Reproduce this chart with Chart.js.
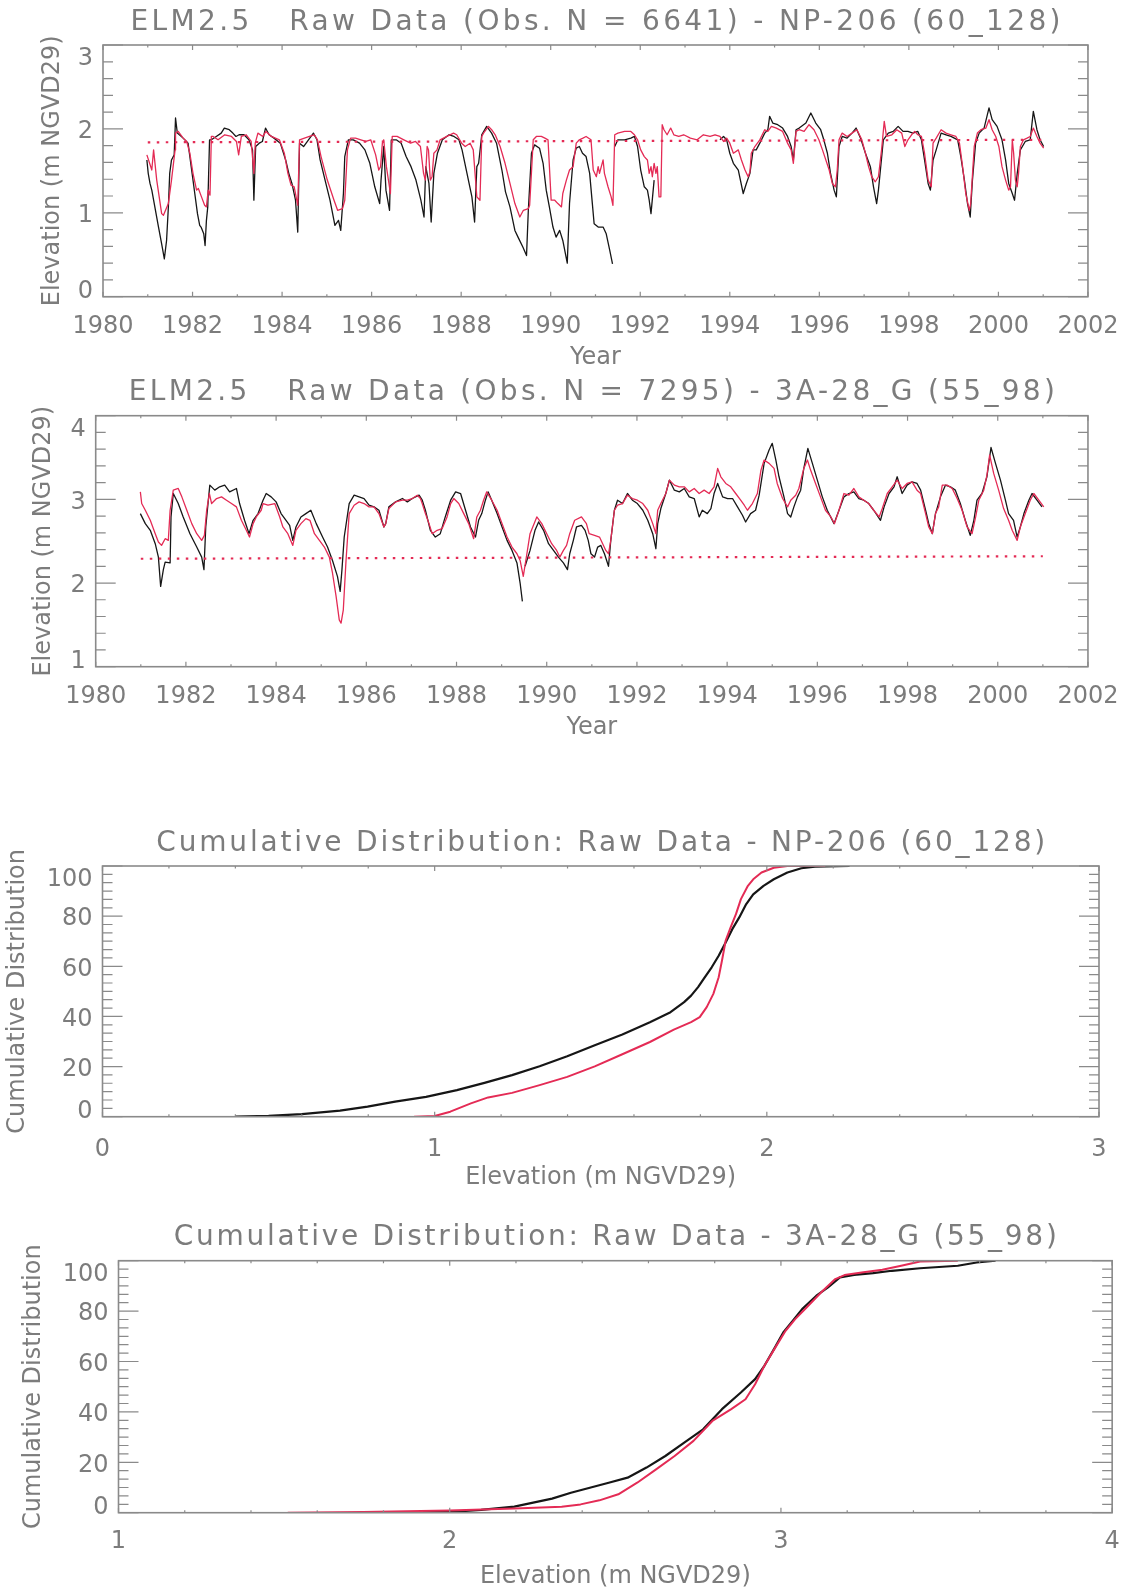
<!DOCTYPE html>
<html>
<head>
<meta charset="utf-8">
<title>ELM2.5 Raw Data - NP-206 / 3A-28_G</title>
<script src="https://cdn.jsdelivr.net/npm/chart.js@4.4.1/dist/chart.umd.min.js"></script>
<style>
  html, body { margin:0; padding:0; background:#ffffff; }
  body { position:relative; width:1134px; height:1593px; overflow:hidden; }
  canvas { position:absolute; left:0; }
</style>
</head>
<body>
<canvas id="np206Series" width="1134" height="372" style="top:0px"></canvas>
<canvas id="a328Series" width="1134" height="380" style="top:372px"></canvas>
<canvas id="np206Cdf" width="1134" height="395" style="top:800px"></canvas>
<canvas id="a328Cdf" width="1134" height="398" style="top:1195px"></canvas>
<script>
// ---------------- tick labels ----------------
const yearTicks   = [1980,1982,1984,1986,1988,1990,1992,1994,1996,1998,2000,2002];
const elevTicksNP = [0,1,2,3];
const elevTicksA  = [1,2,3,4];
const pctTicks    = [0,20,40,60,80,100];
const cdfTicksNP  = [0,1,2,3];
const cdfTicksA   = [1,2,3,4];

// ---------------- NP-206 (60_128) time series: [year, elevation m] ----------------
const np206Obs = [
[1980.98,1.63],[1981.01,1.47],[1981.05,1.35],[1981.09,1.27],[1981.24,0.83],[1981.31,0.63],[1981.37,0.45],[1981.42,0.67],[1981.46,1.07],[1981.49,1.47],[1981.53,1.63],[1981.59,1.69],[1981.62,2.13],[1981.66,1.95],[1981.79,1.89],[1981.90,1.83],[1981.97,1.55],[1982.05,1.23],[1982.11,0.99],[1982.16,0.85],[1982.19,0.83],[1982.25,0.75],[1982.28,0.61],[1982.31,0.91],[1982.34,1.07],[1982.38,1.87],[1982.42,1.87],[1982.53,1.91],[1982.64,1.95],[1982.71,2.01],[1982.82,1.99],[1982.90,1.95],[1982.97,1.91],[1983.04,1.93],[1983.15,1.93],[1983.26,1.87],[1983.34,1.75],[1983.37,1.15],[1983.41,1.79],[1983.49,1.83],[1983.56,1.85],[1983.63,2.01],[1983.71,1.93],[1983.82,1.89],[1983.96,1.83],[1984.08,1.63],[1984.15,1.47],[1984.22,1.35],[1984.30,1.15],[1984.35,0.77],[1984.39,1.83],[1984.48,1.79],[1984.59,1.87],[1984.70,1.95],[1984.78,1.87],[1984.85,1.63],[1984.96,1.39],[1985.07,1.15],[1985.18,0.85],[1985.26,0.91],[1985.31,0.79],[1985.37,1.23],[1985.40,1.67],[1985.48,1.87],[1985.59,1.87],[1985.73,1.83],[1985.85,1.75],[1985.96,1.59],[1986.07,1.31],[1986.18,1.11],[1986.21,1.39],[1986.27,1.79],[1986.32,1.27],[1986.40,1.03],[1986.44,1.87],[1986.55,1.87],[1986.66,1.83],[1986.77,1.67],[1986.88,1.55],[1986.99,1.39],[1987.10,1.15],[1987.17,0.95],[1987.21,1.55],[1987.28,1.35],[1987.33,0.89],[1987.39,1.47],[1987.47,1.71],[1987.58,1.87],[1987.73,1.93],[1987.84,1.91],[1987.95,1.87],[1988.02,1.75],[1988.13,1.47],[1988.24,1.19],[1988.30,0.89],[1988.35,1.55],[1988.39,1.59],[1988.46,1.93],[1988.57,2.03],[1988.68,1.95],[1988.79,1.83],[1988.91,1.51],[1988.99,1.25],[1989.09,1.07],[1989.20,0.79],[1989.27,0.71],[1989.38,0.59],[1989.46,0.49],[1989.50,1.03],[1989.57,1.71],[1989.64,1.81],[1989.75,1.77],[1989.83,1.59],[1989.90,1.27],[1989.97,1.07],[1990.05,0.83],[1990.12,0.71],[1990.20,0.79],[1990.27,0.67],[1990.37,0.40],[1990.42,1.11],[1990.50,1.63],[1990.57,1.77],[1990.64,1.79],[1990.71,1.71],[1990.79,1.67],[1990.87,1.47],[1990.93,1.11],[1990.97,0.87],[1991.06,0.83],[1991.17,0.83],[1991.24,0.75],[1991.32,0.55],[1991.38,0.39],[1991.40,null],[1991.43,1.79],[1991.50,1.87],[1991.65,1.87],[1991.79,1.89],[1991.87,1.91],[1991.94,1.79],[1992.01,1.51],[1992.09,1.31],[1992.16,1.27],[1992.20,1.15],[1992.24,0.99],[1992.31,1.39],[1992.50,null],
[1993.78,1.87],[1993.86,1.91],[1993.93,1.87],[1994.00,1.71],[1994.08,1.59],[1994.19,1.51],[1994.30,1.23],[1994.37,1.35],[1994.45,1.47],[1994.52,1.75],[1994.59,1.75],[1994.67,1.83],[1994.78,1.95],[1994.85,1.99],[1994.89,2.15],[1994.96,2.07],[1995.07,2.05],[1995.18,2.01],[1995.29,1.91],[1995.37,1.79],[1995.42,1.63],[1995.48,1.99],[1995.55,2.01],[1995.70,2.07],[1995.81,2.19],[1995.92,2.07],[1996.03,1.99],[1996.10,1.87],[1996.18,1.71],[1996.25,1.47],[1996.33,1.27],[1996.38,1.19],[1996.44,1.79],[1996.51,1.91],[1996.62,1.89],[1996.73,1.95],[1996.82,2.01],[1996.92,1.89],[1997.03,1.71],[1997.14,1.55],[1997.21,1.31],[1997.28,1.11],[1997.32,1.27],[1997.43,1.87],[1997.54,1.95],[1997.65,1.97],[1997.76,2.03],[1997.87,1.97],[1997.98,1.97],[1998.09,1.95],[1998.20,1.97],[1998.28,1.87],[1998.35,1.63],[1998.43,1.35],[1998.48,1.27],[1998.54,1.63],[1998.61,1.75],[1998.72,1.95],[1998.83,1.93],[1998.94,1.91],[1999.09,1.87],[1999.16,1.67],[1999.24,1.39],[1999.31,1.11],[1999.37,0.95],[1999.42,1.39],[1999.49,1.83],[1999.57,1.95],[1999.68,2.01],[1999.79,2.25],[1999.86,2.11],[1999.97,2.03],[2000.08,1.87],[2000.16,1.63],[2000.23,1.35],[2000.31,1.23],[2000.36,1.15],[2000.42,1.47],[2000.49,1.75],[2000.60,1.85],[2000.71,1.87],[2000.78,2.21],[2000.86,1.99],[2000.93,1.87],[2001.01,1.79]
];
const np206Model = [
[1980.98,1.69],[1981.09,1.51],[1981.13,1.75],[1981.20,1.39],[1981.31,0.99],[1981.35,0.97],[1981.46,1.11],[1981.53,1.39],[1981.61,1.75],[1981.62,1.95],[1981.68,1.97],[1981.79,1.89],[1981.87,1.85],[1981.94,1.71],[1982.01,1.47],[1982.09,1.27],[1982.13,1.29],[1982.20,1.19],[1982.27,1.09],[1982.31,1.07],[1982.35,1.27],[1982.39,1.21],[1982.42,1.91],[1982.46,1.91],[1982.57,1.87],[1982.72,1.93],[1982.87,1.91],[1982.98,1.85],[1983.03,1.69],[1983.09,1.91],[1983.20,1.93],[1983.31,1.85],[1983.37,1.47],[1983.40,1.83],[1983.46,1.95],[1983.57,1.91],[1983.64,1.97],[1983.76,1.91],[1983.94,1.87],[1984.05,1.71],[1984.13,1.47],[1984.20,1.33],[1984.27,1.31],[1984.35,1.09],[1984.39,1.87],[1984.50,1.89],[1984.61,1.91],[1984.72,1.93],[1984.79,1.87],[1984.87,1.67],[1985.01,1.39],[1985.16,1.15],[1985.24,1.03],[1985.35,1.05],[1985.40,1.15],[1985.46,1.75],[1985.53,1.89],[1985.64,1.89],[1985.76,1.87],[1985.87,1.85],[1985.98,1.87],[1986.09,1.69],[1986.16,1.51],[1986.20,1.55],[1986.24,1.83],[1986.27,1.87],[1986.33,1.55],[1986.42,1.23],[1986.46,1.91],[1986.57,1.91],[1986.72,1.87],[1986.87,1.83],[1986.98,1.85],[1987.09,1.79],[1987.16,1.47],[1987.20,1.39],[1987.24,1.79],[1987.27,1.75],[1987.31,1.39],[1987.35,1.43],[1987.39,1.71],[1987.46,1.75],[1987.53,1.87],[1987.68,1.91],[1987.83,1.95],[1987.90,1.93],[1988.01,1.83],[1988.09,1.79],[1988.20,1.83],[1988.27,1.75],[1988.35,1.19],[1988.42,1.15],[1988.46,1.91],[1988.50,1.95],[1988.61,2.03],[1988.68,1.99],[1988.76,1.93],[1988.87,1.79],[1988.98,1.59],[1989.09,1.35],[1989.20,1.11],[1989.31,0.95],[1989.39,1.03],[1989.50,1.05],[1989.53,1.09],[1989.61,1.87],[1989.68,1.91],[1989.79,1.91],[1989.87,1.89],[1989.94,1.87],[1990.01,1.15],[1990.09,1.15],[1990.16,1.11],[1990.24,1.07],[1990.27,1.23],[1990.35,1.39],[1990.42,1.51],[1990.50,1.55],[1990.57,1.83],[1990.64,1.87],[1990.72,1.89],[1990.79,1.91],[1990.90,1.87],[1990.95,1.51],[1991.02,1.43],[1991.06,1.55],[1991.09,1.47],[1991.17,1.63],[1991.20,1.47],[1991.28,1.31],[1991.35,1.19],[1991.39,1.09],[1991.43,1.93],[1991.50,1.95],[1991.65,1.97],[1991.79,1.97],[1991.87,1.93],[1991.94,1.87],[1992.01,1.75],[1992.09,1.67],[1992.16,1.63],[1992.20,1.47],[1992.24,1.55],[1992.27,1.43],[1992.31,1.59],[1992.35,1.47],[1992.38,1.55],[1992.42,1.19],[1992.46,1.19],[1992.49,2.05],[1992.53,1.99],[1992.60,1.93],[1992.68,2.01],[1992.75,1.93],[1992.86,1.91],[1992.97,1.93],[1993.12,1.89],[1993.27,1.87],[1993.41,1.93],[1993.56,1.91],[1993.67,1.93],[1993.78,1.91],[1993.86,1.85],[1993.93,1.89],[1994.00,1.83],[1994.08,1.71],[1994.19,1.75],[1994.26,1.63],[1994.34,1.51],[1994.41,1.43],[1994.45,1.49],[1994.48,1.71],[1994.56,1.79],[1994.67,1.87],[1994.78,1.99],[1994.85,1.97],[1994.93,2.03],[1995.04,2.01],[1995.18,1.97],[1995.29,1.83],[1995.37,1.75],[1995.42,1.59],[1995.48,1.97],[1995.55,1.99],[1995.66,1.97],[1995.77,2.05],[1995.88,1.99],[1995.99,1.87],[1996.07,1.75],[1996.22,1.51],[1996.29,1.35],[1996.36,1.31],[1996.40,1.51],[1996.44,1.87],[1996.51,1.95],[1996.62,1.91],[1996.73,1.95],[1996.84,1.99],[1996.95,1.87],[1997.03,1.71],[1997.10,1.55],[1997.17,1.43],[1997.25,1.37],[1997.32,1.43],[1997.39,1.75],[1997.45,2.09],[1997.50,1.91],[1997.62,1.93],[1997.73,1.99],[1997.84,1.95],[1997.91,1.79],[1997.98,1.87],[1998.06,1.93],[1998.13,1.97],[1998.20,1.93],[1998.28,1.91],[1998.35,1.71],[1998.43,1.39],[1998.50,1.31],[1998.54,1.83],[1998.61,1.89],[1998.72,1.99],[1998.83,1.95],[1998.94,1.93],[1999.05,1.91],[1999.13,1.83],[1999.20,1.55],[1999.27,1.23],[1999.35,1.03],[1999.38,1.11],[1999.46,1.79],[1999.53,1.95],[1999.61,1.99],[1999.72,2.01],[1999.79,2.11],[1999.86,1.99],[1999.94,1.91],[2000.01,1.79],[2000.08,1.55],[2000.16,1.39],[2000.23,1.27],[2000.27,1.31],[2000.31,1.87],[2000.34,1.71],[2000.38,1.39],[2000.42,1.31],[2000.45,1.47],[2000.49,1.79],[2000.56,1.87],[2000.64,1.89],[2000.71,1.91],[2000.78,2.01],[2000.86,1.91],[2000.93,1.83],[2001.01,1.77]
];
const np206Trend = [[1981.0,1.84],[2001.0,1.87]];

// ---------------- 3A-28_G (55_98) time series: [year, elevation m] ----------------
const a328Obs = [
[1980.99,2.83],[1981.10,2.71],[1981.21,2.63],[1981.32,2.47],[1981.39,2.31],[1981.44,1.96],[1981.50,2.16],[1981.54,2.25],[1981.65,2.24],[1981.67,2.79],[1981.72,3.07],[1981.83,2.95],[1981.94,2.79],[1982.09,2.59],[1982.24,2.43],[1982.35,2.31],[1982.40,2.16],[1982.44,2.67],[1982.53,3.17],[1982.64,3.11],[1982.75,3.15],[1982.86,3.17],[1982.97,3.09],[1983.12,3.13],[1983.19,2.95],[1983.30,2.75],[1983.40,2.59],[1983.49,2.75],[1983.60,2.83],[1983.71,2.99],[1983.78,3.07],[1983.89,3.03],[1984.00,2.97],[1984.11,2.83],[1984.22,2.75],[1984.30,2.69],[1984.37,2.51],[1984.44,2.67],[1984.55,2.79],[1984.66,2.83],[1984.77,2.87],[1984.89,2.71],[1985.03,2.55],[1985.14,2.43],[1985.25,2.27],[1985.36,2.08],[1985.42,1.90],[1985.46,2.16],[1985.51,2.55],[1985.62,2.95],[1985.73,3.05],[1985.84,3.03],[1985.95,3.01],[1986.06,2.93],[1986.17,2.91],[1986.28,2.87],[1986.39,2.67],[1986.43,2.71],[1986.50,2.91],[1986.65,2.97],[1986.80,3.01],[1986.91,2.97],[1987.02,3.01],[1987.17,3.05],[1987.24,2.99],[1987.31,2.87],[1987.42,2.63],[1987.53,2.55],[1987.64,2.59],[1987.75,2.79],[1987.87,2.99],[1987.98,3.09],[1988.09,3.07],[1988.20,2.87],[1988.31,2.67],[1988.42,2.55],[1988.49,2.75],[1988.56,2.83],[1988.64,2.99],[1988.70,3.09],[1988.78,2.99],[1988.90,2.83],[1989.01,2.67],[1989.12,2.51],[1989.23,2.39],[1989.34,2.24],[1989.41,2.00],[1989.46,1.78],[1989.49,null],[1989.52,2.20],[1989.63,2.39],[1989.74,2.63],[1989.82,2.73],[1989.93,2.63],[1990.04,2.47],[1990.15,2.39],[1990.26,2.31],[1990.37,2.24],[1990.46,2.16],[1990.51,2.35],[1990.59,2.51],[1990.66,2.67],[1990.77,2.69],[1990.85,2.63],[1990.92,2.51],[1990.98,2.35],[1991.06,2.31],[1991.13,2.43],[1991.20,2.45],[1991.28,2.35],[1991.37,2.20],[1991.42,2.51],[1991.50,2.87],[1991.57,2.99],[1991.68,2.95],[1991.79,3.07],[1991.90,2.99],[1992.01,2.95],[1992.13,2.87],[1992.24,2.75],[1992.35,2.59],[1992.42,2.41],[1992.46,2.71],[1992.53,2.89],[1992.64,3.07],[1992.72,3.23],[1992.83,3.11],[1992.94,3.09],[1993.05,3.13],[1993.16,3.03],[1993.27,3.01],[1993.38,2.79],[1993.45,2.87],[1993.56,2.83],[1993.64,2.89],[1993.71,3.07],[1993.79,3.19],[1993.90,3.03],[1994.01,3.01],[1994.12,3.01],[1994.23,2.91],[1994.34,2.81],[1994.41,2.73],[1994.52,2.83],[1994.63,2.87],[1994.71,3.05],[1994.82,3.43],[1994.93,3.59],[1995.00,3.67],[1995.08,3.47],[1995.15,3.27],[1995.26,3.03],[1995.34,2.83],[1995.41,2.79],[1995.48,2.91],[1995.56,3.03],[1995.63,3.11],[1995.70,3.37],[1995.79,3.61],[1995.89,3.43],[1996.00,3.23],[1996.11,3.03],[1996.22,2.87],[1996.37,2.71],[1996.48,2.87],[1996.59,3.03],[1996.70,3.07],[1996.81,3.09],[1996.92,3.01],[1997.03,2.99],[1997.14,2.95],[1997.25,2.87],[1997.40,2.75],[1997.48,2.91],[1997.59,3.07],[1997.70,3.15],[1997.77,3.27],[1997.88,3.07],[1997.99,3.17],[1998.10,3.21],[1998.21,3.19],[1998.29,3.11],[1998.40,2.87],[1998.47,2.71],[1998.55,2.59],[1998.62,2.83],[1998.73,3.03],[1998.84,3.17],[1998.95,3.15],[1999.06,3.11],[1999.17,2.95],[1999.28,2.75],[1999.39,2.57],[1999.47,2.75],[1999.54,2.99],[1999.65,3.07],[1999.76,3.27],[1999.85,3.62],[1999.95,3.43],[2000.06,3.23],[2000.17,2.99],[2000.24,2.83],[2000.35,2.75],[2000.43,2.55],[2000.50,2.67],[2000.58,2.83],[2000.69,2.99],[2000.76,3.07],[2000.87,2.99],[2000.98,2.91]
];
const a328Model = [
[1980.99,3.09],[1981.02,2.95],[1981.10,2.87],[1981.21,2.75],[1981.32,2.59],[1981.39,2.49],[1981.46,2.45],[1981.54,2.53],[1981.61,2.51],[1981.65,2.87],[1981.72,3.11],[1981.83,3.13],[1981.91,3.03],[1982.02,2.87],[1982.13,2.71],[1982.24,2.59],[1982.35,2.51],[1982.41,2.57],[1982.46,2.87],[1982.52,3.07],[1982.57,2.95],[1982.68,3.01],[1982.79,3.03],[1982.90,2.99],[1983.01,2.95],[1983.12,2.91],[1983.23,2.75],[1983.34,2.63],[1983.41,2.55],[1983.49,2.71],[1983.56,2.79],[1983.67,2.87],[1983.71,2.95],[1983.82,2.93],[1983.97,2.95],[1984.08,2.79],[1984.15,2.67],[1984.26,2.59],[1984.37,2.45],[1984.44,2.63],[1984.55,2.71],[1984.66,2.77],[1984.75,2.75],[1984.85,2.59],[1984.96,2.51],[1985.07,2.43],[1985.18,2.31],[1985.25,2.12],[1985.33,1.84],[1985.40,1.56],[1985.44,1.52],[1985.49,1.68],[1985.55,2.27],[1985.62,2.83],[1985.73,2.93],[1985.84,2.97],[1985.95,2.95],[1986.06,2.91],[1986.17,2.91],[1986.28,2.83],[1986.39,2.67],[1986.43,2.71],[1986.50,2.89],[1986.65,2.97],[1986.80,2.99],[1986.91,2.99],[1987.02,3.01],[1987.13,3.05],[1987.20,3.01],[1987.24,2.95],[1987.31,2.83],[1987.39,2.71],[1987.46,2.59],[1987.57,2.63],[1987.68,2.65],[1987.79,2.79],[1987.87,2.95],[1987.94,3.01],[1988.05,2.95],[1988.16,2.83],[1988.27,2.71],[1988.38,2.53],[1988.45,2.79],[1988.53,2.87],[1988.60,2.99],[1988.67,3.09],[1988.78,2.99],[1988.90,2.87],[1989.01,2.71],[1989.12,2.55],[1989.23,2.43],[1989.34,2.35],[1989.41,2.27],[1989.48,2.08],[1989.56,2.35],[1989.63,2.59],[1989.78,2.79],[1989.89,2.71],[1990.00,2.59],[1990.11,2.47],[1990.22,2.39],[1990.29,2.31],[1990.37,2.39],[1990.44,2.45],[1990.51,2.59],[1990.62,2.75],[1990.77,2.79],[1990.88,2.71],[1990.94,2.59],[1991.06,2.57],[1991.17,2.55],[1991.24,2.47],[1991.31,2.39],[1991.37,2.35],[1991.42,2.51],[1991.50,2.87],[1991.57,2.93],[1991.68,2.95],[1991.79,3.05],[1991.90,3.01],[1992.01,2.99],[1992.13,2.95],[1992.24,2.87],[1992.35,2.71],[1992.42,2.59],[1992.46,2.87],[1992.53,2.95],[1992.64,3.07],[1992.72,3.23],[1992.83,3.17],[1992.94,3.15],[1993.05,3.15],[1993.16,3.09],[1993.27,3.13],[1993.38,3.07],[1993.49,3.11],[1993.60,3.07],[1993.71,3.15],[1993.79,3.37],[1993.86,3.27],[1993.97,3.19],[1994.08,3.15],[1994.19,3.07],[1994.30,2.99],[1994.38,2.93],[1994.45,2.87],[1994.56,2.95],[1994.67,3.07],[1994.75,3.35],[1994.82,3.47],[1994.93,3.43],[1995.04,3.37],[1995.11,3.19],[1995.23,3.01],[1995.34,2.91],[1995.41,2.99],[1995.52,3.05],[1995.59,3.13],[1995.70,3.37],[1995.78,3.47],[1995.85,3.35],[1995.96,3.19],[1996.07,3.03],[1996.18,2.87],[1996.30,2.79],[1996.38,2.71],[1996.48,2.87],[1996.59,3.07],[1996.70,3.05],[1996.81,3.13],[1996.92,3.03],[1997.03,2.99],[1997.14,2.95],[1997.25,2.87],[1997.37,2.79],[1997.44,2.89],[1997.55,3.07],[1997.66,3.15],[1997.77,3.23],[1997.88,3.13],[1997.99,3.19],[1998.10,3.21],[1998.21,3.11],[1998.29,3.07],[1998.40,2.83],[1998.47,2.67],[1998.55,2.59],[1998.62,2.83],[1998.69,2.91],[1998.77,3.17],[1998.88,3.17],[1998.99,3.13],[1999.10,3.01],[1999.21,2.87],[1999.32,2.67],[1999.43,2.59],[1999.51,2.79],[1999.58,2.99],[1999.69,3.11],[1999.76,3.29],[1999.82,3.53],[1999.91,3.31],[2000.02,3.11],[2000.13,2.89],[2000.24,2.75],[2000.32,2.63],[2000.43,2.51],[2000.50,2.67],[2000.61,2.83],[2000.72,2.99],[2000.80,3.07],[2000.91,2.99],[2001.02,2.91]
];
const a328Trend = [[1981.0,2.29],[2001.0,2.32]];

// ---------------- cumulative distributions: [elevation m, percent] ----------------
const np206CdfObs = [
[0.40,0],[0.50,0.3],[0.60,1.0],[0.715,2.4],[0.798,4.0],[0.881,6.0],[0.974,7.9],[1.067,10.6],[1.150,13.5],[1.233,16.6],[1.316,20.1],[1.399,24.1],[1.482,28.5],[1.565,32.8],[1.648,37.7],[1.710,41.7],[1.751,45.7],[1.772,48.3],[1.793,51.7],[1.813,55.6],[1.834,59.6],[1.855,64.2],[1.876,69.5],[1.896,74.8],[1.917,79.5],[1.938,84.8],[1.959,88.7],[1.990,92.1],[2.021,94.7],[2.062,97.4],[2.104,99.1],[2.145,99.7],[2.249,100]
];
const np206CdfModel = [
[0.938,0],[1.0,0.3],[1.047,2.0],[1.109,5.3],[1.161,7.7],[1.233,9.5],[1.316,12.6],[1.399,15.9],[1.482,20.1],[1.565,24.9],[1.648,29.8],[1.720,34.7],[1.772,37.7],[1.798,39.7],[1.819,43.7],[1.839,49.0],[1.855,55.6],[1.865,62.3],[1.876,70.2],[1.891,75.5],[1.907,80.8],[1.922,86.8],[1.943,92.1],[1.959,94.7],[1.984,97.4],[2.021,99.3],[2.062,100],[2.176,100]
];
const a328CdfObs = [
[1.768,0],[2.0,0.3],[2.095,1.1],[2.195,2.4],[2.252,4.0],[2.309,5.6],[2.366,7.9],[2.423,9.9],[2.480,11.9],[2.537,13.9],[2.594,17.9],[2.651,22.5],[2.708,27.8],[2.765,33.1],[2.822,41.1],[2.879,47.7],[2.922,53.0],[2.950,58.3],[2.979,64.9],[3.007,71.5],[3.036,76.2],[3.064,80.8],[3.107,86.1],[3.142,89.4],[3.178,93.4],[3.221,94.4],[3.278,95.1],[3.335,96.0],[3.420,97.0],[3.534,98.0],[3.591,99.3],[3.648,100]
];
const a328CdfModel = [
[1.511,0],[1.739,0.3],[2.0,0.9],[2.195,1.7],[2.338,2.4],[2.395,3.3],[2.452,4.9],[2.509,7.3],[2.566,11.9],[2.623,17.2],[2.679,22.5],[2.736,28.5],[2.793,36.4],[2.850,41.1],[2.893,45.0],[2.922,51.0],[2.950,58.3],[2.986,66.2],[3.014,72.2],[3.043,76.8],[3.078,81.5],[3.121,87.4],[3.164,92.7],[3.192,94.3],[3.249,95.4],[3.306,96.4],[3.363,98.0],[3.420,99.7],[3.534,100]
];

// ---------------- styles ----------------
const FONT  = '"DejaVu Sans", "Liberation Sans", sans-serif';
const TEXT  = '#7c7c7c';
const FRAME = '#8a8a8a';
const RED   = '#e42b55';
const BLACK = '#161616';

function xy(pairs) { return pairs.map(p => ({ x: p[0], y: p[1] })); }
function steps(min, max, step, skip) {
  const out = [];
  const n = Math.round((max - min) / step);
  for (let i = 0; i <= n; i++) {
    const v = +(min + i * step).toFixed(6);
    if (!skip.some(s => Math.abs(s - v) < 1e-6)) out.push(v);
  }
  return out;
}

// IDL-style heading drawn with letter spacing
const idlTitle = {
  id: 'idlTitle',
  afterDraw(chart, args, o) {
    const ctx = chart.ctx, a = chart.chartArea;
    ctx.save();
    ctx.font = o.size + 'px ' + FONT;
    ctx.fillStyle = TEXT;
    ctx.textBaseline = 'middle';
    ctx.textAlign = 'left';
    const n = Array.from(o.text).length;
    const w0 = ctx.measureText(o.text).width;
    const ls = Math.max(0, (o.width - w0) / (n - 1));
    const x0 = (a.left + a.right) / 2 - o.width / 2;
    const y = o.y + 0.07 * o.size;
    if ('letterSpacing' in ctx) {
      ctx.letterSpacing = ls + 'px';
      ctx.fillText(o.text, x0, y);
    } else {
      let x = x0;
      for (const ch of o.text) { ctx.fillText(ch, x, y); x += ctx.measureText(ch).width + ls; }
    }
    ctx.restore();
  }
};

// IDL-style box with inward major/minor ticks on all four sides
const idlFrame = {
  id: 'idlFrame',
  afterDraw(chart, args, o) {
    const ctx = chart.ctx, a = chart.chartArea, xs = chart.scales.x, ys = chart.scales.y;
    ctx.save();
    ctx.strokeStyle = FRAME;
    ctx.lineWidth = 1.2;
    ctx.beginPath();
    const seg = (x1, y1, x2, y2) => { ctx.moveTo(x1, y1); ctx.lineTo(x2, y2); };
    [[o.xMajor, 5], [o.xMinor, 2.5]].forEach(([vals, len]) => {
      for (const v of vals) {
        const px = xs.getPixelForValue(v);
        seg(px, a.bottom, px, a.bottom - len);
        seg(px, a.top, px, a.top + len);
      }
    });
    [[o.yMajor, 20], [o.yMinor, 10]].forEach(([vals, len]) => {
      for (const v of vals) {
        const py = ys.getPixelForValue(v);
        seg(a.left, py, a.left + len, py);
        seg(a.right, py, a.right - len, py);
      }
    });
    ctx.stroke();
    ctx.lineWidth = 1.6;
    ctx.strokeRect(a.left, a.top, a.right - a.left, a.bottom - a.top);
    ctx.restore();
  }
};

function makePanel(id, p) {
  const canvas = document.getElementById(id);
  const W = canvas.width, H = canvas.height;
  const xMin = p.xTicks[0], xMax = p.xTicks[p.xTicks.length - 1];
  const yMin = p.yTicks[0], yMax = p.yTicks[p.yTicks.length - 1];
  const half = 14.4;   // half line height of 24px text
  const lift = 1.6;    // 'middle' baseline vs glyph centre
  return new Chart(canvas, {
    type: 'line',
    data: { datasets: p.datasets },
    options: {
      responsive: false, animation: false, devicePixelRatio: 1, events: [],
      layout: { padding: { left: 0, top: p.plot.top, right: W - p.plot.right, bottom: 0 } },
      elements: { point: { radius: 0 }, line: { tension: 0, borderJoinStyle: 'round', borderCapStyle: 'butt' } },
      plugins: {
        legend: { display: false }, tooltip: { enabled: false }, title: { display: false },
        idlTitle: { text: p.title, y: p.titleY, width: p.titleWidth, size: 28 },
        idlFrame: {
          xMajor: p.xTicks, xMinor: steps(xMin, xMax, p.xMinorStep, p.xTicks),
          yMajor: p.yTicks, yMinor: steps(yMin, yMax, p.yMinorStep, p.yTicks)
        }
      },
      scales: {
        x: {
          type: 'linear', min: xMin, max: xMax,
          afterBuildTicks: s => { s.ticks = p.xTicks.map(v => ({ value: v })); },
          afterFit: s => { s.height = H - p.plot.bottom; },
          grid: { display: false, drawTicks: false }, border: { display: false },
          ticks: { autoSkip: false, maxRotation: 0, minRotation: 0, padding: p.xLabelGap - half + lift,
                   color: TEXT, font: { family: FONT, size: 24 }, callback: v => String(v) },
          title: { display: true, text: p.xTitle, color: TEXT, font: { family: FONT, size: 24 },
                   padding: { top: 0, bottom: H - p.xTitleY - lift - half } }
        },
        y: {
          type: 'linear', min: yMin, max: yMax,
          afterBuildTicks: s => { s.ticks = p.yTicks.map(v => ({ value: v })); },
          afterFit: s => { s.width = p.plot.left; },
          grid: { display: false, drawTicks: false }, border: { display: false },
          ticks: {
            autoSkip: false, padding: 10, labelOffset: 3, color: TEXT,
            font: c => ({ family: FONT, size: 24,
              lineHeight: (c.tick && c.tick.value === yMax) ? '22px' : ((c.tick && c.tick.value === yMin) ? '16px' : 1.2) }),
            callback: v => v === yMax ? ['', String(v)] : (v === yMin ? [String(v), ''] : String(v))
          },
          title: { display: true, text: p.yTitle, color: TEXT, font: { family: FONT, size: 24 },
                   padding: { top: p.yTitleX + lift - half, bottom: 0 } }
        }
      }
    },
    plugins: [idlTitle, idlFrame]
  });
}

function seriesSets(obs, model, trend) {
  return [
    { data: xy(trend), borderColor: RED, borderWidth: 2.2, borderDash: [2.5, 6.5], spanGaps: false },
    { data: xy(model), borderColor: RED, borderWidth: 1.3, spanGaps: false },
    { data: xy(obs), borderColor: BLACK, borderWidth: 1.3, spanGaps: false }
  ];
}
function cdfSets(obs, model) {
  return [
    { data: xy(model), borderColor: RED, borderWidth: 2 },
    { data: xy(obs), borderColor: BLACK, borderWidth: 2.2 }
  ];
}

makePanel('np206Series', {
  plot: { left: 103, right: 1098, top: 45, bottom: 296.7 },
  title: 'ELM2.5   Raw Data (Obs. N = 6641) - NP-206 (60_128)', titleY: 21, titleWidth: 930,
  xTicks: yearTicks, xMinorStep: 1, yTicks: elevTicksNP, yMinorStep: 0.2,
  xTitle: 'Year', xTitleY: 355.7, yTitle: 'Elevation (m NGVD29)', yTitleX: 50.8, xLabelGap: 28.3,
  datasets: seriesSets(np206Obs, np206Model, np206Trend)
});
makePanel('a328Series', {
  plot: { left: 95.7, right: 1091, top: 43.7, bottom: 294.7 },
  title: 'ELM2.5   Raw Data (Obs. N = 7295) - 3A-28_G (55_98)', titleY: 19, titleWidth: 926,
  xTicks: yearTicks, xMinorStep: 1, yTicks: elevTicksA, yMinorStep: 0.2,
  xTitle: 'Year', xTitleY: 354, yTitle: 'Elevation (m NGVD29)', yTitleX: 42.5, xLabelGap: 28.3,
  datasets: seriesSets(a328Obs, a328Model, a328Trend)
});
makePanel('np206Cdf', {
  plot: { left: 102.5, right: 1099, top: 66, bottom: 316.7 },
  title: 'Cumulative Distribution: Raw Data - NP-206 (60_128)', titleY: 42, titleWidth: 889,
  xTicks: cdfTicksNP, xMinorStep: 0.2, yTicks: pctTicks, yMinorStep: 20 / 6,
  xTitle: 'Elevation (m NGVD29)', xTitleY: 376.6, yTitle: 'Cumulative Distribution', yTitleX: 15.8, xLabelGap: 31,
  datasets: cdfSets(np206CdfObs, np206CdfModel)
});
makePanel('a328Cdf', {
  plot: { left: 118.5, right: 1113.5, top: 65.7, bottom: 317.7 },
  title: 'Cumulative Distribution: Raw Data - 3A-28_G (55_98)', titleY: 41, titleWidth: 883,
  xTicks: cdfTicksA, xMinorStep: 0.2, yTicks: pctTicks, yMinorStep: 20 / 6,
  xTitle: 'Elevation (m NGVD29)', xTitleY: 379.7, yTitle: 'Cumulative Distribution', yTitleX: 32, xLabelGap: 27,
  datasets: cdfSets(a328CdfObs, a328CdfModel)
});
</script>
</body>
</html>
